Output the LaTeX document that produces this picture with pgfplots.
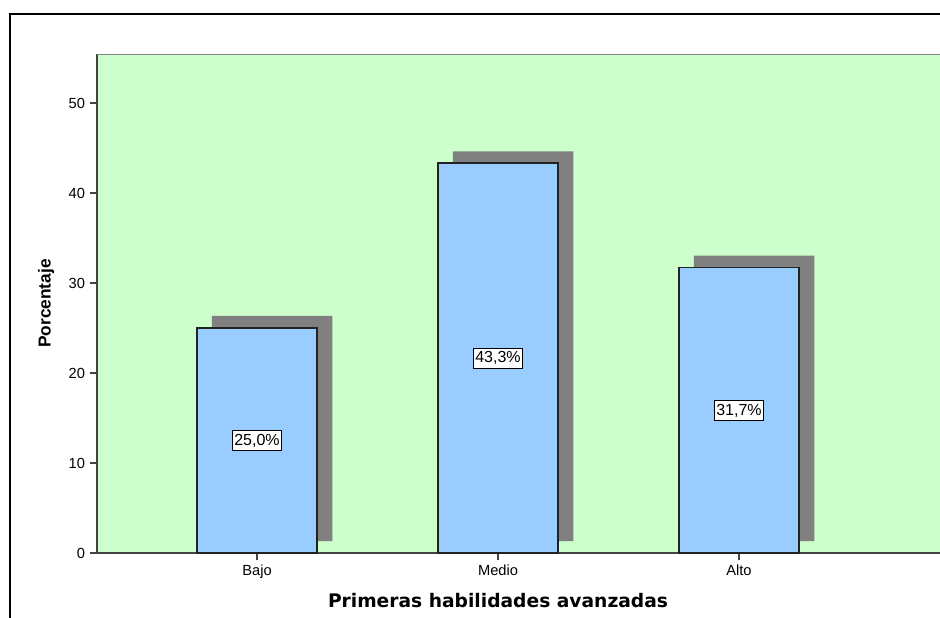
\documentclass[border=0pt]{standalone}
\usepackage{fontspec}
\setmainfont{Liberation Sans}
\newfontfamily\labfont{DejaVu Sans}
\usepackage{pgfplots}
\usepackage{pgfplotstable}
\pgfplotsset{compat=1.18}

\definecolor{bggreen}{HTML}{CCFFCC}
\definecolor{barblue}{HTML}{99CCFF}
\definecolor{shadowgray}{HTML}{808080}
\definecolor{bardark}{HTML}{222222}
\definecolor{axisgray}{HTML}{444444}

% porcentaje por nivel
\pgfplotstableread{
x y
0 25.0
1 43.3
2 31.7
}\niveles

\begin{document}
\begin{tikzpicture}
  \useasboundingbox (0pt,0pt) rectangle (705pt,-463.5pt);
  % marco exterior
  \draw[black, line width=1.5pt] (7.125pt,-463.5pt) -- (7.125pt,-10.5pt) -- (705pt,-10.5pt);
  \begin{axis}[
    at={(72.75pt,-414.75pt)}, anchor=south west,
    scale only axis,
    width=632.25pt, height=374.25pt,
    xmin=-0.664, xmax=2.834,
    ymin=0, ymax=55.44,
    axis x line*=bottom, axis y line*=left,
    axis line style={axisgray, line width=1.2pt},
    axis background/.style={fill=bggreen},
    tick align=outside,
    major tick length=5.5pt,
    tick style={axisgray, line width=1pt},
    xtick={0,1,2},
    xticklabels={Bajo,Medio,Alto},
    ytick={0,10,20,30,40,50},
    tick label style={font=\fontsize{11}{12}\selectfont},
    /pgf/number format/assume math mode=true,
    xlabel={\labfont\bfseries Primeras habilidades avanzadas},
    xlabel style={font=\fontsize{14}{16}\selectfont, at={(ticklabel cs:0.4757)}, anchor=north, yshift=-4pt},
    ylabel={\bfseries Porcentaje},
    ylabel style={font=\fontsize{13}{15}\selectfont, yshift=4pt},
  ]
    % sombra
    \addplot[ybar, bar width=0.5, bar shift=0pt, fill=shadowgray, draw=none,
      xshift=11.25pt, yshift=9pt] table[x=x, y=y] {\niveles};
    % barras
    \addplot[ybar, bar width=0.5, bar shift=0pt, fill=barblue, draw=bardark,
      line width=1.2pt] table[x=x, y=y] {\niveles};
    % etiquetas
    \addplot[draw=none, mark=none,
      nodes near coords={\pgfmathprintnumber[fixed, fixed zerofill, precision=1, use comma]{\pgfplotspointmeta}\%},
      point meta=explicit,
      every node near coord/.append style={anchor=center, fill=white, draw=black,
        line width=0.7pt, font=\fontsize{12}{13}\selectfont,
        inner xsep=1.5pt, inner ysep=2.5pt, text height=8.5pt, text depth=1.5pt}]
      table[x=x, y expr=\thisrow{y}/2, meta=y] {\niveles};
    \draw[shadowgray, line width=1.5pt] (rel axis cs:0,1) -- (rel axis cs:1,1);
  \end{axis}
\end{tikzpicture}
\end{document}
